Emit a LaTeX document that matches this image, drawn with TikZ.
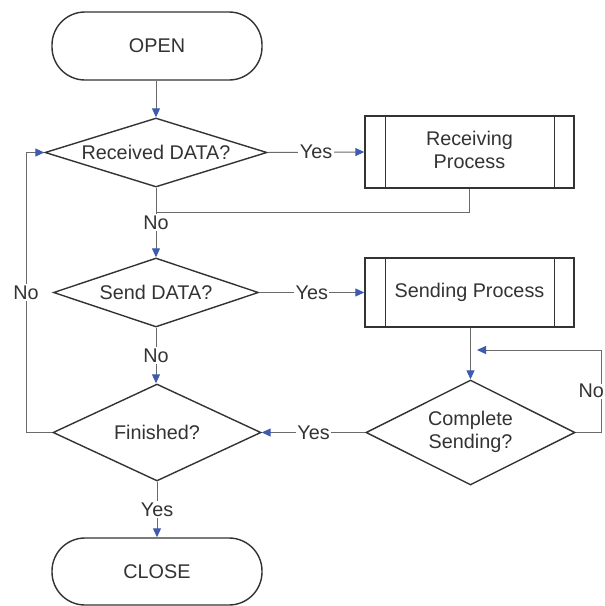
\documentclass[tikz,border=0pt]{standalone}
\usepackage{fontspec}
\setmainfont{Liberation Sans}
\usetikzlibrary{shapes.geometric,arrows.meta}
\definecolor{shapeline}{HTML}{333333}
\definecolor{conline}{HTML}{6A6A6A}
\definecolor{tipblue}{HTML}{3F5BB0}
\definecolor{txt}{HTML}{333333}
\tikzset{
  term/.style={draw=shapeline, line width=1.4pt, rectangle, rounded corners=33pt,
    minimum width=210pt, minimum height=68pt, inner sep=0pt},
  dec/.style={draw=shapeline, line width=1.4pt, diamond, inner sep=0pt},
  proc/.style={draw=shapeline, line width=1.4pt, rectangle, inner sep=0pt,
    minimum width=209pt},
  procbar/.style={draw=shapeline, line width=1.4pt},
  conn/.style={draw=conline, line width=1pt,
    -{Triangle[length=9pt,width=8pt,color=tipblue]}},
  link/.style={draw=conline, line width=1pt},
  lab/.style={fill=white, inner sep=1.5pt, text=txt}
}
\newcommand{\twolines}[2]{\makebox[0pt]{\begin{tabular}{@{}c@{}}#1\\#2\end{tabular}}}
\begin{document}
\begin{tikzpicture}[x=1pt, y=-1pt, font=\fontsize{19.8}{23}\selectfont, text=txt]
\useasboundingbox[fill=white] (0,0) rectangle (605,606);

% nodes
\node[term] (open) at (157,46) {OPEN};
\node[dec, minimum width=222pt, minimum height=69pt] (recv) at (156,152.5) {\makebox[0pt]{Received DATA?}};
\node[proc, minimum height=72pt] (recvp) at (469.5,152) {\twolines{Receiving}{Process}};
\node[dec, minimum width=205pt, minimum height=69pt] (send) at (156,292.5) {\makebox[0pt]{Send DATA?}};
\node[proc, minimum height=69pt] (sendp) at (469.5,292.5) {Sending Process};
\node[dec, minimum width=208pt, minimum height=97pt] (fin) at (157,432.5) {\makebox[0pt]{Finished?}};
\node[dec, minimum width=209pt, minimum height=105pt] (comp) at (470.5,432.5) {\twolines{Complete}{Sending?}};
\node[term, minimum height=67pt] (close) at (157,571.5) {CLOSE};

% predefined-process bars
\draw[procbar] ([xshift=21pt]recvp.north west) -- ([xshift=21pt]recvp.south west);
\draw[procbar] ([xshift=-20pt]recvp.north east) -- ([xshift=-20pt]recvp.south east);
\draw[procbar] ([xshift=21pt]sendp.north west) -- ([xshift=21pt]sendp.south west);
\draw[procbar] ([xshift=-20pt]sendp.north east) -- ([xshift=-20pt]sendp.south east);

% helper coordinates
\coordinate (j1) at (156,212);
\coordinate (l1) at (26,432.5);
\coordinate (l2) at (26,152.5);
\coordinate (r1) at (601,432.5);
\coordinate (r2) at (601,350);
\coordinate (rend) at (477,350);

% connectors
\draw[conn] (open.south -| recv.north) -- (recv.north);
\draw[conn] (recv.east) -- node[lab]{Yes} (recvp.west);
\draw[link] (recvp.south) |- (j1);
\draw[conn] (recv.south) -- node[lab]{No} (send.north);
\draw[conn] (send.east) -- node[lab]{Yes} (send.east -| sendp.west);
\draw[conn] (send.south) -- node[lab]{No} (send.south |- fin.north);
\draw[conn] (sendp.south -| comp.north) -- (comp.north);
\draw[conn] (comp.east) -- (r1) -- node[lab, anchor=east, xshift=4pt, inner sep=0.5pt]{No} (r2) -- (rend);
\draw[conn] (comp.west) -- node[lab]{Yes} (fin.east);
\draw[conn] (fin.west) -- (l1) -- node[lab]{No} (l2) -- (recv.west);
\draw[conn] (fin.south -| close.north) -- node[lab]{Yes} (close.north);
\end{tikzpicture}
\end{document}
